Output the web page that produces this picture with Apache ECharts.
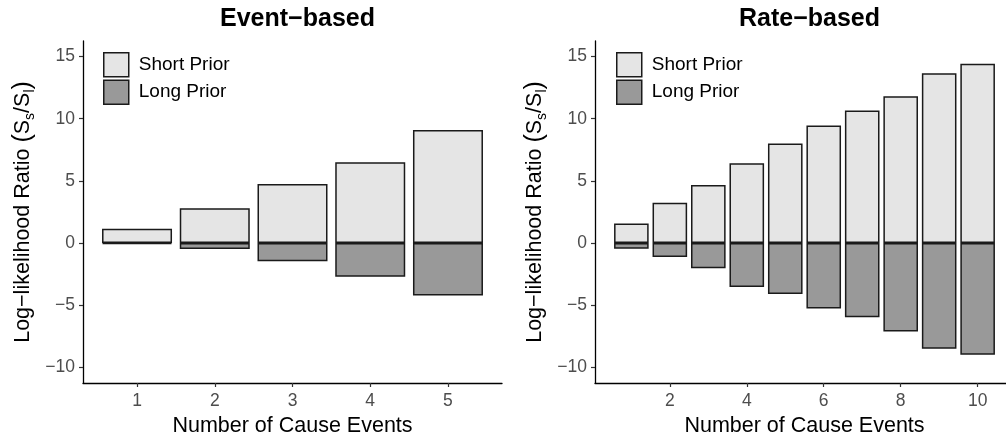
<!DOCTYPE html>
<html>
<head>
<meta charset="utf-8">
<script src="https://cdn.jsdelivr.net/npm/echarts@6/dist/echarts.min.js"></script>
<style>
html,body{margin:0;padding:0;background:#fff;}
#chart{width:1006px;height:439px;}
</style>
</head>
<body>
<div id="chart"></div>
<script>
// ---- data ----
const eventX = [1, 2, 3, 4, 5];
const eventShort = [1.15, 2.8, 4.75, 6.5, 9.1];
const eventLong = [-0.08, -0.48, -1.47, -2.7, -4.22];

const rateX = [1, 2, 3, 4, 5, 6, 7, 8, 9, 10];
const rateShort = [1.57, 3.25, 4.67, 6.41, 8.01, 9.45, 10.66, 11.8, 13.65, 14.42];
const rateLong = [-0.46, -1.12, -2.03, -3.53, -4.09, -5.26, -5.96, -7.11, -8.5, -8.98];

const eventTicks = [1, 2, 3, 4, 5];
const rateTicks = [2, 4, 6, 8, 10];
const yTicks = [-10, -5, 0, 5, 10, 15];
const titles = ['Event\u2212based', 'Rate\u2212based'];
const seriesNames = ['Short Prior', 'Long Prior'];
const xTitle = 'Number of Cause Events';

// ---- style ----
const FONT = '"Liberation Sans", Arial, Helvetica, sans-serif';
const shortFill = '#E5E5E5';
const longFill = '#999999';
const edge = '#1a1a1a';
const BW = 1.5;

const chart = echarts.init(document.getElementById('chart'), null, {renderer: 'canvas'});

const pairs = (xs, ys) => xs.map((x, i) => [x, ys[i]]);
const minusFmt = v => String(v).replace('-', '\u2212');

function xAxis(idx, min, max, ticks) {
  return {
    type: 'value', gridIndex: idx, min: min, max: max,
    splitLine: {show: false},
    axisLine: {show: true, onZero: false, lineStyle: {color: '#000', width: 1.3}},
    axisTick: {show: true, customValues: ticks, length: 4, lineStyle: {color: '#333', width: 1.2}},
    axisLabel: {customValues: ticks, margin: 9, color: '#4D4D4D', fontSize: 17.5, fontFamily: FONT, formatter: minusFmt},
    name: xTitle, nameLocation: 'middle', nameGap: 31,
    nameTextStyle: {color: '#000', fontSize: 21.5, fontFamily: FONT}
  };
}
function yAxis(idx) {
  return {
    type: 'value', gridIndex: idx, min: -11.25, max: 16.25,
    splitLine: {show: false},
    axisLine: {show: true, onZero: false, lineStyle: {color: '#000', width: 1.3}},
    axisTick: {show: true, customValues: yTicks, length: 4, lineStyle: {color: '#333', width: 1.2}},
    axisLabel: {customValues: yTicks, margin: 8, color: '#4D4D4D', fontSize: 17.5, fontFamily: FONT, formatter: minusFmt},
    name: '{a|Log\u2212likelihood Ratio }{p|(}{a|S}{b|s}{a|/S}{b|l}{p|)}',
    nameLocation: 'middle', nameRotate: 90, nameGap: 46,
    nameTextStyle: {
      color: '#000', fontFamily: FONT,
      rich: {
        a: {fontSize: 21.5, fontFamily: FONT, color: '#000', lineHeight: 28, verticalAlign: 'middle'},
        p: {fontSize: 25, fontFamily: FONT, color: '#000', lineHeight: 28, verticalAlign: 'middle'},
        b: {fontSize: 14, fontFamily: FONT, color: '#000', lineHeight: 14, verticalAlign: 'bottom'}
      }
    }
  };
}
function barSeries(name, idx, data, fill, w) {
  return {
    type: 'bar', name: name, xAxisIndex: idx, yAxisIndex: idx,
    data: data, barWidth: w, barGap: '-100%',
    itemStyle: {color: fill, borderColor: edge, borderWidth: BW},
    emphasis: {disabled: true}, animation: false
  };
}
function legend(left) {
  return {
    left: left, top: 52, padding: 0, orient: 'vertical', itemWidth: 25, itemHeight: 24, itemGap: 2,
    selectedMode: false, icon: 'rect',
    textStyle: {fontSize: 19, fontFamily: FONT, color: '#000', padding: [2, 0, 0, 5]},
    data: [
      {name: seriesNames[0], itemStyle: {color: shortFill, borderColor: edge, borderWidth: BW}},
      {name: seriesNames[1], itemStyle: {color: longFill, borderColor: edge, borderWidth: BW}}
    ]
  };
}

chart.setOption({
  backgroundColor: '#fff',
  animation: false,
  title: [
    {text: titles[0], left: 292.5, top: 2, textAlign: 'center',
     textStyle: {fontSize: 25, fontWeight: 'bold', fontFamily: FONT, color: '#000'}},
    {text: titles[1], left: 804.5, top: 2, textAlign: 'center',
     textStyle: {fontSize: 25, fontWeight: 'bold', fontFamily: FONT, color: '#000'}}
  ],
  legend: [legend(103), legend(616)],
  grid: [
    {left: 83, top: 41, width: 419, height: 342, outerBoundsMode: 'none', containLabel: false},
    {left: 595, top: 41, width: 419, height: 342, outerBoundsMode: 'none', containLabel: false}
  ],
  xAxis: [xAxis(0, 0.305, 5.695, eventTicks), xAxis(1, 0.055, 10.945, rateTicks)],
  yAxis: [yAxis(0), yAxis(1)],
  series: [
    barSeries(seriesNames[0], 0, pairs(eventX, eventShort), shortFill, 70),
    barSeries(seriesNames[1], 0, pairs(eventX, eventLong), longFill, 70),
    barSeries(seriesNames[0], 1, pairs(rateX, rateShort), shortFill, 34.6),
    barSeries(seriesNames[1], 1, pairs(rateX, rateLong), longFill, 34.6)
  ]
});
</script>
</body>
</html>
